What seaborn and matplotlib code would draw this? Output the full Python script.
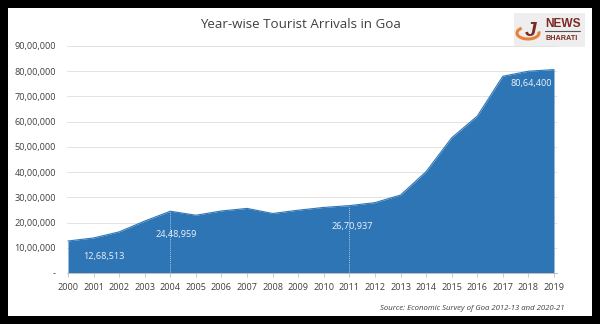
import numpy as np
import pandas as pd
import matplotlib
matplotlib.use("Agg")
import matplotlib.pyplot as plt
import seaborn as sns
from matplotlib.patches import Rectangle, Arc

# ---------------- data ----------------
years = [2000, 2001, 2002, 2003, 2004, 2005, 2006, 2007, 2008, 2009,
         2010, 2011, 2012, 2013, 2014, 2015, 2016, 2017, 2018, 2019]
arrivals = [1268513, 1390000, 1630000, 2060000, 2448959, 2290000, 2460000,
            2560000, 2360000, 2490000, 2600000, 2670937, 2790000, 3090000,
            4020000, 5360000, 6220000, 7800000, 8000000, 8064400]
labelled_years = [2000, 2004, 2011, 2019]
label_texts = ["12,68,513", "24,48,959", "26,70,937", "80,64,400"]
ytick_values = [0, 1000000, 2000000, 3000000, 4000000, 5000000,
                6000000, 7000000, 8000000, 9000000]
ytick_labels = ["-", "10,00,000", "20,00,000", "30,00,000", "40,00,000",
                "50,00,000", "60,00,000", "70,00,000", "80,00,000", "90,00,000"]
title = "Year-wise Tourist Arrivals in Goa"
source = "Source: Economic Survey of Goa 2012-13 and 2020-21"

df = pd.DataFrame({"year": years, "arrivals": arrivals})

sns.set_theme(style="white")
plt.rcParams["font.family"] = ["Open Sans", "DejaVu Sans"]

W, H = 600, 324
fig = plt.figure(figsize=(W / 100, H / 100), dpi=100, facecolor="black")

def fx(px):
    return px / W

def fy(py):
    return 1 - py / H

# white inner panel
fig.patches.append(Rectangle((fx(8), fy(316)), fx(584), (316 - 8) / H,
                             transform=fig.transFigure, facecolor="white",
                             edgecolor="none", zorder=-5))

ax_l, ax_r, ax_t, ax_b = 67, 557, 46, 273
ax = fig.add_axes([fx(ax_l), fy(ax_b), (ax_r - ax_l) / W, (ax_b - ax_t) / H])
ax.set_facecolor("none")
ax.set_zorder(3)

blue = "#2E75B6"
ax.fill_between(df["year"], 0, df["arrivals"], color=blue, linewidth=0, zorder=2)
sns.lineplot(data=df, x="year", y="arrivals", ax=ax, color=blue, linewidth=0.8,
             zorder=3)

ax.set_xlim(2000 - 1 / 25.58, 2019 + 3 / 25.58)
ax.set_ylim(0, 9000000)

ax.set_yticks(ytick_values)
ax.set_yticklabels(ytick_labels)
ax.set_xticks(years)
ax.set_xticklabels([str(y) for y in years])
ax.tick_params(axis="y", length=0, pad=8, labelsize=6.6, labelcolor="#404040")
ax.tick_params(axis="x", length=3, width=0.6, color="#bfbfbf", pad=4,
               labelsize=6.6, labelcolor="#404040", direction="out", bottom=True)
ax.grid(axis="y", color="#e3e3e3", linewidth=0.7, zorder=1)
ax.set_axisbelow(True)
for s in ["top", "right", "left"]:
    ax.spines[s].set_visible(False)
ax.spines["bottom"].set_color("#bfbfbf")
ax.spines["bottom"].set_linewidth(0.7)
ax.set_xlabel("")
ax.set_ylabel("")

# dotted drop lines for highlighted points
for yr in [2004, 2011]:
    v = arrivals[years.index(yr)]
    ax.vlines(yr, 0, v, colors="#dbe6f2", linestyles=(0, (1, 1.5)),
              linewidth=0.6, zorder=4)

# data labels (offsets in points)
offsets = {2000: (10.8, -10.8, "left"), 2004: (4.3, -16.5, "center"),
           2011: (2.3, -15.2, "center"), 2019: (-1.5, -10.0, "right")}
for yr, txt in zip(labelled_years, label_texts):
    v = arrivals[years.index(yr)]
    dx, dy, ha = offsets[yr]
    ax.annotate(txt, xy=(yr, v), xytext=(dx, dy), textcoords="offset points",
                ha=ha, va="center", fontsize=6.6, color="#eef3f9", zorder=5)

# title
fig.text(fx(300), fy(25), title, ha="center", va="center", fontsize=9.6,
         color="#404040")

# source
fig.text(fx(565), fy(308), source, ha="right", va="center", fontsize=5.6,
         style="italic", color="#404040")

# logo
fig.patches.append(Rectangle((fx(514), fy(47)), fx(71), 34 / H,
                             transform=fig.transFigure, facecolor="#eeeeee",
                             edgecolor="none", zorder=-4))
maroon = "#7a2a22"
fig.text(fx(545), fy(24), "NEWS", ha="left", va="center", fontsize=8.6,
         fontweight="bold", color=maroon, family=["Liberation Sans"])
fig.lines.append(plt.Line2D([fx(545), fx(580)], [fy(31), fy(31)],
                            transform=fig.transFigure, color="#555555",
                            linewidth=0.8))
fig.text(fx(546), fy(38), "BHARATI", ha="left", va="center", fontsize=5.2,
         fontweight="bold", color=maroon, family=["Liberation Sans"])
fig.patches.append(Arc((fx(528), fy(33)), 22 / W, 12 / H, angle=-25,
                       theta1=150, theta2=400, transform=fig.transFigure,
                       color="#e8823a", linewidth=2.2))
fig.text(fx(531), fy(30), "J", ha="center", va="center", fontsize=15,
         fontweight="bold", style="italic", color=maroon,
         family=["Liberation Sans"])

fig.savefig("out.png", dpi=100, facecolor="black")
